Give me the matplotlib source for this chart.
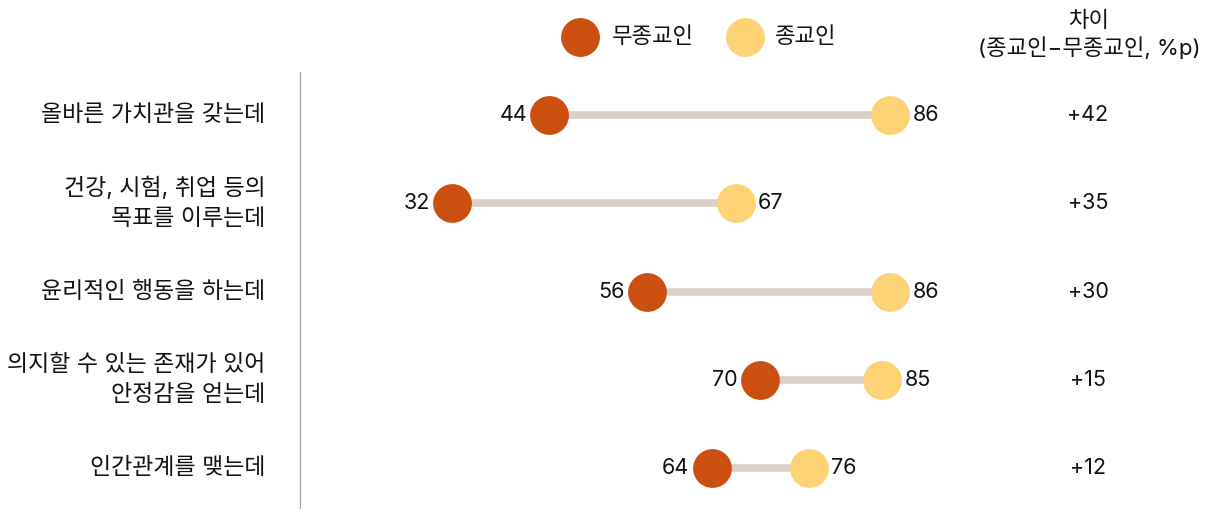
import matplotlib.pyplot as plt
from matplotlib.lines import Line2D
from matplotlib.transforms import blended_transform_factory

plt.rcParams['font.family'] = ['Inter', 'Noto Sans CJK KR', 'DejaVu Sans']

# ---------- Data ----------
items = ["올바른 가치관을 갖는데",
         "건강, 시험, 취업 등의\n목표를 이루는데",
         "윤리적인 행동을 하는데",
         "의지할 수 있는 존재가 있어\n안정감을 얻는데",
         "인간관계를 맺는데"]
non_religious = [44, 32, 56, 70, 64]
religious = [86, 67, 86, 85, 76]
diff_labels = ["+42", "+35", "+30", "+15", "+12"]

c_non = "#CB4F0F"
c_rel = "#FED375"
c_bar = "#D9D1C8"
c_txt = "#111111"
fs = 15.5      # numbers
fs_k = 16.5    # korean labels

W, H = 1210, 509
fig = plt.figure(figsize=(W / 100, H / 100), dpi=100)
ax = fig.add_axes([300 / W, 0, (960 - 300) / W, (509 - 72) / H])

ytrans = ax.get_yaxis_transform()
diff_trans = blended_transform_factory(fig.transFigure, ax.transData)

for i, (a, b) in enumerate(zip(non_religious, religious)):
    ax.plot([a, b], [i, i], color=c_bar, lw=5.5, solid_capstyle='butt', zorder=1)
    ax.annotate(str(a), (a, i), xytext=(-16, 0), textcoords='offset points',
                ha='right', va='center', fontsize=fs, color=c_txt)
    ax.annotate(str(b), (b, i), xytext=(16, 0), textcoords='offset points',
                ha='left', va='center', fontsize=fs, color=c_txt)
    ax.annotate(items[i], (0, i), xycoords=ytrans, xytext=(-25, 0), textcoords='offset points',
                ha='right', va='center', fontsize=fs_k, color=c_txt, linespacing=1.5,
                multialignment='right')
    ax.text(1088 / W, i, diff_labels[i], transform=diff_trans, ha='center', va='center',
            fontsize=fs, color=c_txt, clip_on=False)

ax.scatter(non_religious, range(len(items)), s=780, color=c_non, zorder=3, linewidths=0)
ax.scatter(religious, range(len(items)), s=780, color=c_rel, zorder=3, linewidths=0)

ax.set_xlim(13.3, 94.6)
ax.set_ylim(4.46, -0.487)
ax.set_xticks([])
ax.set_yticks([])
for s in ['top', 'right', 'bottom']:
    ax.spines[s].set_visible(False)
ax.spines['left'].set_color('#AAAAAA')
ax.spines['left'].set_linewidth(1.0)

# ---------- Legend & header ----------
fig.lines.append(Line2D([580 / W], [1 - 37 / H], marker='o', markersize=28, color=c_non,
                        markeredgewidth=0, transform=fig.transFigure))
fig.lines.append(Line2D([745 / W], [1 - 37 / H], marker='o', markersize=28, color=c_rel,
                        markeredgewidth=0, transform=fig.transFigure))
fig.text(612 / W, 1 - 37 / H, "무종교인", ha='left', va='center', fontsize=16, color=c_txt)
fig.text(775 / W, 1 - 37 / H, "종교인", ha='left', va='center', fontsize=16, color=c_txt)
fig.text(1089 / W, 1 - 35 / H, "차이\n(종교인−무종교인, %p)", ha='center', va='center',
         fontsize=16, color=c_txt, linespacing=1.3)

fig.savefig("out.png", dpi=100)
